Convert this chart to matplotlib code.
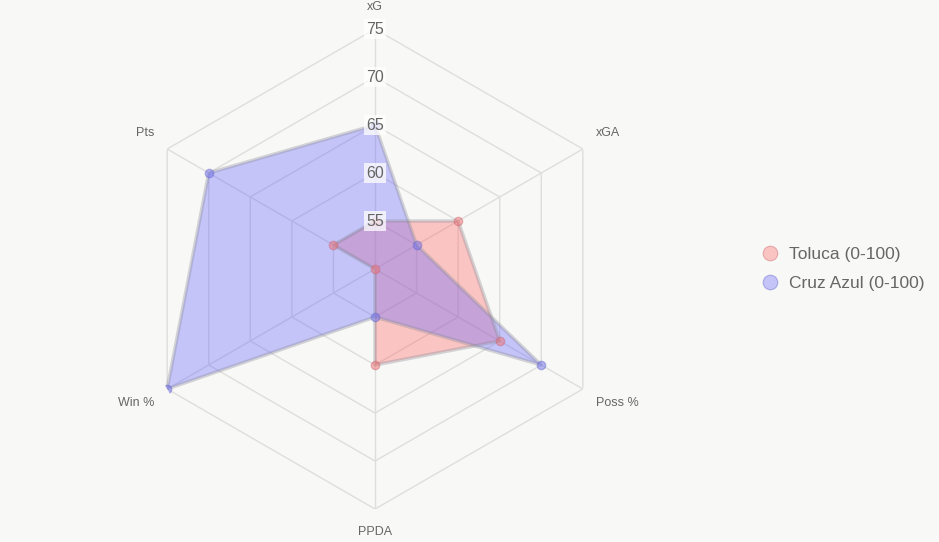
import numpy as np
import matplotlib
matplotlib.use('Agg')
import matplotlib.pyplot as plt
from matplotlib.lines import Line2D

plt.rcParams['font.family'] = ['Liberation Sans', 'DejaVu Sans']

# Data
metrics = ['xG', 'xGA', 'Poss %', 'PPDA', 'Win %', 'Pts']
toluca = [55, 60, 65, 60, 50, 55]
cruz_azul = [65, 55, 70, 55, 75, 70]
team_names = ['Toluca (0-100)', 'Cruz Azul (0-100)']
r_ticks = [55, 60, 65, 70, 75]
r_min, r_max = 50, 75

BG = '#f8f8f6'
GRID = '#dedede'
fills = [(1.0, 0.39, 0.39, 0.35), (0.39, 0.39, 1.0, 0.35)]
edge = (0.55, 0.55, 0.6, 0.35)
dot_fc = [(0.95, 0.45, 0.45, 0.5), (0.45, 0.45, 0.95, 0.5)]
dot_ec = [(0.8, 0.4, 0.45, 0.45), (0.4, 0.4, 0.8, 0.45)]

fig = plt.figure(figsize=(9.39, 5.42), dpi=100, facecolor=BG)
ax = fig.add_axes([135 / 939, 33 / 542, 480 / 939, 480 / 542], projection='polar')
ax.set_facecolor(BG)
ax.patch.set_alpha(0)
ax.set_theta_zero_location('N')
ax.set_theta_direction(-1)
ax.set_ylim(r_min, r_max)
ax.grid(False)
ax.spines['polar'].set_visible(False)
ax.set_xticks([])
ax.set_yticks([])

angles = np.linspace(0, 2 * np.pi, len(metrics), endpoint=False)
closed = np.append(angles, angles[0])

# hexagon rings and spokes
for r in r_ticks:
    ax.plot(closed, [r] * len(closed), color=GRID, lw=1, zorder=1)
for a in angles:
    ax.plot([a, a], [r_min, r_max], color=GRID, lw=1, zorder=1)

# series
for vals, fc, dfc, dec in zip([toluca, cruz_azul], fills, dot_fc, dot_ec):
    v = np.append(vals, vals[0])
    ax.fill(closed, v, color=fc, zorder=2, lw=0)
    ax.plot(closed, v, color=edge, lw=2.5, zorder=3)
    ax.plot(angles, vals, 'o', mfc=dfc, mec=dec, mew=1, ms=6, ls='none', zorder=4)

# radial tick labels
for r in r_ticks:
    ax.text(0, r, str(r), ha='center', va='center', fontsize=11.5, color='#666666',
            zorder=5, bbox=dict(boxstyle='square,pad=0.15', fc='white', ec='none', alpha=0.75))

# metric labels, placed just outside the outer ring like Chart.js does
for a, name in zip(angles, metrics):
    s, c = np.sin(a), np.cos(a)
    if np.isclose(s, 0):
        ha, dx = 'center', 0
        dy = 22 if c > 0 else -23
    else:
        ha = 'left' if s > 0 else 'right'
        dx = 13 if s > 0 else -13
        dy = 16 if c > 0 else -14
    ax.annotate(name, xy=(a, r_max), xytext=(dx, dy), textcoords='offset pixels',
                ha=ha, va='center', fontsize=9, color='#666666', annotation_clip=False)

handles = [Line2D([], [], ls='none', marker='o', ms=10.5, mfc=fc, mec=dec, mew=0.8)
           for fc, dec in zip(fills, dot_ec)]
fig.legend(handles, team_names, loc='center left', bbox_to_anchor=(744 / 939, 1 - 269 / 542),
           frameon=False, fontsize=12.5, labelcolor='#666666', handletextpad=0.5,
           handlelength=1.2, labelspacing=0.8)

fig.savefig('out.png', dpi=100, facecolor=BG)
